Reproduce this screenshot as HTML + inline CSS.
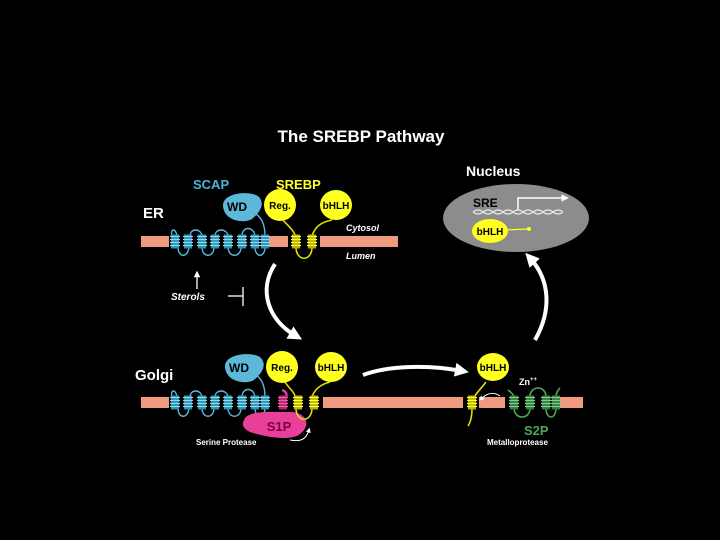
<!DOCTYPE html>
<html><head><meta charset="utf-8"><style>
html,body{margin:0;padding:0;background:#000;}
svg{display:block;font-family:"Liberation Sans",sans-serif;}
</style></head><body>
<svg width="720" height="540" viewBox="0 0 720 540" xmlns="http://www.w3.org/2000/svg">
<defs>
<g id="hb"><rect x="-4" y="-7" width="8" height="14" fill="#2a8fb0"/><path d="M-5 -5h10M-5 -2h10M-5 1h10M-5 4h10" stroke="#8fd8f0" stroke-width="1.3"/></g>
<g id="hy"><rect x="-4" y="-7" width="8" height="14" fill="#b8b000"/><path d="M-5 -5h10M-5 -2h10M-5 1h10M-5 4h10" stroke="#ffff40" stroke-width="1.3"/></g>
<g id="hg"><rect x="-4" y="-7" width="8" height="14" fill="#2f7a3c"/><path d="M-5 -5h10M-5 -2h10M-5 1h10M-5 4h10" stroke="#7fd08a" stroke-width="1.3"/></g>
<g id="hp"><rect x="-4" y="-7" width="8" height="14" fill="#b02070"/><path d="M-5 -5h10M-5 -2h10M-5 1h10M-5 4h10" stroke="#f060a8" stroke-width="1.3"/></g>
<marker id="ah" viewBox="0 0 10 10" refX="5" refY="5" markerWidth="5" markerHeight="5" orient="auto"><path d="M0 0L10 5L0 10z" fill="#fff"/></marker>
<marker id="as" viewBox="0 0 10 10" refX="5" refY="5" markerWidth="3.5" markerHeight="3.5" orient="auto"><path d="M0 0L10 5L0 10z" fill="#fff"/></marker>
</defs>
<rect width="720" height="540" fill="#000"/>
<text x="361" y="142" fill="#fff" font-size="17" font-weight="bold" text-anchor="middle">The SREBP Pathway</text>

<!-- ER -->
<text x="143" y="218" fill="#fff" font-size="15" font-weight="bold">ER</text>
<text x="193" y="189" fill="#4fb3d6" font-size="13" font-weight="bold">SCAP</text>
<text x="276" y="189" fill="#ffff30" font-size="13" font-weight="bold">SREBP</text>
<rect x="141" y="236" width="28" height="11" fill="#f09a80"/>
<rect x="268" y="236" width="20" height="11" fill="#f09a80"/>
<rect x="320" y="236" width="78" height="11" fill="#f09a80"/>
<path d="M172 236 C170 228,176 228,177 236 M178 247 C178 258,188 258,189 247 M190 236 C190 228,201 228,202 236 M202 247 C202 258,214 258,214 247 M215 236 C215 228,227 228,228 236 M228 247 C228 258,241 258,241 247 M242 236 C242 226,254 226,255 236 M255 247 C255 258,265 258,265 247 M265 236 C265 225,262 218,256 214" stroke="#5bb8d8" stroke-width="1.4" fill="none"/>
<use href="#hb" x="175" y="241.5"/><use href="#hb" x="188" y="241.5"/><use href="#hb" x="202" y="241.5"/><use href="#hb" x="215" y="241.5"/><use href="#hb" x="228" y="241.5"/><use href="#hb" x="242" y="241.5"/><use href="#hb" x="255" y="241.5"/><use href="#hb" x="265" y="241.5"/>
<path d="M223 206 C222 192,252 190,259 197 C266 205,258 214,252 219 C244 224,224 221,223 206z" fill="#5bb8d8"/>
<text x="227" y="211" fill="#000" font-size="12" font-weight="bold">WD</text>
<path d="M283 220 C290 228,296 232,296 240 M296 247 C296 262,312 262,312 247 M312 236 C315 226,322 222,332 220" stroke="#e0e000" stroke-width="1.6" fill="none"/>
<use href="#hy" x="296" y="241.5"/><use href="#hy" x="312" y="241.5"/>
<circle cx="280" cy="205" r="16" fill="#ffff20"/>
<text x="280" y="209" fill="#000" font-size="10" font-weight="bold" text-anchor="middle">Reg.</text>
<ellipse cx="336" cy="205" rx="16" ry="15" fill="#ffff20"/>
<text x="336" y="209" fill="#000" font-size="10" font-weight="bold" text-anchor="middle">bHLH</text>
<text x="346" y="231" fill="#fff" font-size="9" font-style="italic" font-weight="bold">Cytosol</text>
<text x="346" y="259" fill="#fff" font-size="9" font-style="italic" font-weight="bold">Lumen</text>
<line x1="197" y1="289" x2="197" y2="274" stroke="#fff" stroke-width="1.3" marker-end="url(#ah)"/>
<text x="171" y="300" fill="#fff" font-size="10" font-style="italic" font-weight="bold">Sterols</text>
<line x1="228" y1="296" x2="243" y2="296" stroke="#fff" stroke-width="1.3"/>
<line x1="243" y1="287" x2="243" y2="306" stroke="#fff" stroke-width="1.3"/>
<path d="M275 264 C258 290,268 320,296 336" stroke="#fff" stroke-width="4" fill="none" marker-end="url(#as)"/>

<!-- Nucleus -->
<text x="466" y="176" fill="#fff" font-size="14" font-weight="bold">Nucleus</text>
<ellipse cx="516" cy="218" rx="73" ry="34" fill="#8c8c8c"/>
<text x="473" y="207" fill="#000" font-size="12" font-weight="bold">SRE</text>
<path d="M473 212 q5 -4 10 0 t10 0 t10 0 t10 0 t10 0 t10 0 t10 0 t10 0 t10 0 M473 212 q5 4 10 0 t10 0 t10 0 t10 0 t10 0 t10 0 t10 0 t10 0 t10 0" stroke="#e8e8e8" stroke-width="1.2" fill="none"/>
<path d="M518 210 V198 H565" stroke="#fff" stroke-width="1.5" fill="none" marker-end="url(#ah)"/>
<ellipse cx="490" cy="231" rx="18" ry="12" fill="#ffff20"/>
<text x="490" y="235" fill="#000" font-size="10" font-weight="bold" text-anchor="middle">bHLH</text>
<line x1="506" y1="230" x2="528" y2="229" stroke="#ffff20" stroke-width="1.3"/><circle cx="529" cy="229" r="2" fill="#ffff20"/>
<path d="M535 340 C552 310,550 280,530 258" stroke="#fff" stroke-width="4" fill="none" marker-end="url(#as)"/>

<!-- Golgi -->
<text x="135" y="380" fill="#fff" font-size="15" font-weight="bold">Golgi</text>
<rect x="141" y="397" width="28" height="11" fill="#f09a80"/>
<rect x="323" y="397" width="140" height="11" fill="#f09a80"/>
<rect x="479" y="397" width="26" height="11" fill="#f09a80"/>
<rect x="558" y="397" width="25" height="11" fill="#f09a80"/>
<path d="M172 397 C170 389,176 389,177 397 M178 408 C178 419,188 419,189 408 M190 397 C190 389,201 389,202 397 M202 408 C202 419,214 419,214 408 M215 397 C215 389,227 389,228 397 M228 408 C228 419,241 419,241 408 M242 397 C242 387,254 387,255 397 M255 408 C255 419,265 419,265 408 M265 397 C265 386,262 379,256 375" stroke="#5bb8d8" stroke-width="1.4" fill="none"/>
<use href="#hb" x="175" y="402.5"/><use href="#hb" x="188" y="402.5"/><use href="#hb" x="202" y="402.5"/><use href="#hb" x="215" y="402.5"/><use href="#hb" x="228" y="402.5"/><use href="#hb" x="242" y="402.5"/><use href="#hb" x="255" y="402.5"/><use href="#hb" x="265" y="402.5"/>
<path d="M225 367 C224 353,254 351,261 358 C268 366,260 375,254 380 C246 385,226 382,225 367z" fill="#5bb8d8"/>
<text x="229" y="372" fill="#000" font-size="12" font-weight="bold">WD</text>
<path d="M282 390 C288 392,288 398,282 402" stroke="#e040a0" stroke-width="2.5" fill="none"/>
<use href="#hp" x="283" y="402.5"/>
<path d="M244 420 C248 410,270 412,290 412 C306 412,312 425,300 434 C290 442,262 436,250 432 C242 428,242 424,244 420z" fill="#e8409a"/>
<text x="279" y="431" fill="#7a0040" font-size="13" font-weight="bold" text-anchor="middle">S1P</text>
<text x="196" y="445" fill="#fff" font-size="8" font-weight="bold">Serine Protease</text>
<path d="M290 440 C300 442,306 440,309 430" stroke="#fff" stroke-width="1" fill="none" marker-end="url(#ah)"/>
<path d="M285 382 C290 390,296 392,296 402 M296 408 C296 423,312 423,312 408 M312 397 C315 388,322 384,330 382" stroke="#e0e000" stroke-width="1.6" fill="none"/>
<use href="#hy" x="298" y="402.5"/><use href="#hy" x="314" y="402.5"/>
<circle cx="282" cy="367" r="16" fill="#ffff20"/>
<text x="282" y="371" fill="#000" font-size="10" font-weight="bold" text-anchor="middle">Reg.</text>
<ellipse cx="331" cy="367" rx="16" ry="15" fill="#ffff20"/>
<text x="331" y="371" fill="#000" font-size="10" font-weight="bold" text-anchor="middle">bHLH</text>
<path d="M363 375 C390 365,430 365,462 371" stroke="#fff" stroke-width="4" fill="none" marker-end="url(#as)"/>
<!-- right bHLH -->
<path d="M486 382 C480 390,474 395,472 402 M472 408 C472 418,470 423,468 426" stroke="#e0e000" stroke-width="1.6" fill="none"/>
<use href="#hy" x="472" y="402.5"/>
<ellipse cx="493" cy="367" rx="16" ry="14" fill="#ffff20"/>
<text x="493" y="371" fill="#000" font-size="10" font-weight="bold" text-anchor="middle">bHLH</text>
<path d="M500 396 C494 392,488 392,481 399" stroke="#fff" stroke-width="1" fill="none" marker-end="url(#ah)"/>
<text x="519" y="385" fill="#fff" font-size="9" font-weight="bold">Zn<tspan font-size="6" dy="-4">++</tspan></text>
<path d="M508 390 C512 393,514 395,514 397 M514 408 C514 420,530 420,530 408 M530 397 C530 385,546 385,546 397 M546 408 C546 420,556 420,556 408 M556 397 C556 393,558 390,560 388" stroke="#4aa858" stroke-width="1.6" fill="none"/>
<use href="#hg" x="514" y="402.5"/><use href="#hg" x="530" y="402.5"/><use href="#hg" x="546" y="402.5"/><use href="#hg" x="556" y="402.5"/>
<text x="524" y="435" fill="#4aa858" font-size="13" font-weight="bold">S2P</text>
<text x="487" y="445" fill="#fff" font-size="8" font-weight="bold">Metalloprotease</text>
</svg>
</body></html>
